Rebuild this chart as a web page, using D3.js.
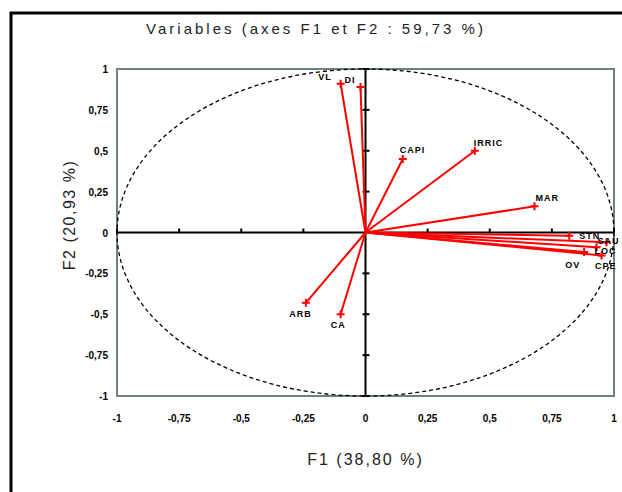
<!DOCTYPE html>
<meta charset="utf-8">
<html lang="fr">
  <head>
    <script src="https://cdn.jsdelivr.net/npm/d3@7"></script>
    <style>
      body { margin: 0; background: #fff; }
      text { font-family: "Liberation Sans", Arial, sans-serif; }
      .tick-lbl { font-size: 10px; font-weight: bold; }
      .var-lbl { font-size: 9px; font-weight: bold; letter-spacing: 1px; }
    </style>
  </head>
  <body>
    <svg id="chart" width="622" height="492"></svg>
  <script>
    // variables projected on the factorial plane F1 x F2
    const variables = ['VL', 'DI', 'CAPI', 'IRRIC', 'MAR', 'ARB', 'CA', 'STN', 'SAU', 'LOC', 'OV', 'CPE'];
    const f1 = [-0.10, -0.02, 0.15, 0.44, 0.68, -0.24, -0.10, 0.82, 0.97, 0.93, 0.88, 0.95];
    const f2 = [0.91, 0.89, 0.45, 0.50, 0.16, -0.43, -0.50, -0.02, -0.06, -0.09, -0.12, -0.14];
    const ticks = [-1, -0.75, -0.5, -0.25, 0, 0.25, 0.5, 0.75, 1];

    const title = 'Variables (axes F1 et F2 : 59,73 %)';
    const xTitle = 'F1 (38,80 %)';
    const yTitle = 'F2 (20,93 %)';

    // label placement around each point: [anchor, dx, dy]
    const lblPos = {
      VL: ['end', -9, -4], DI: ['end', -5, -4], CAPI: ['start', -3, -6],
      IRRIC: ['start', -1, -5], MAR: ['start', 1, -5], ARB: ['end', 6, 14],
      CA: ['end', 5, 14], STN: ['start', 10, 3], SAU: ['end', 13, 2],
      LOC: ['end', 20, 7], OV: ['end', -4, 16], CPE: ['end', 15, 14]
    };

    const fmt = v => String(v).replace('.', ',');

    const svg = d3.select('#chart');
    const x = d3.scaleLinear().domain([-1, 1]).range([117, 614]);
    const y = d3.scaleLinear().domain([-1, 1]).range([396, 69]);

    // outer frame
    svg.append('path').attr('d', 'M11,500 L11,13 L630,13')
      .attr('fill', 'none').attr('stroke', '#000').attr('stroke-width', 3);

    svg.append('text').attr('x', 316).attr('y', 34)
      .attr('text-anchor', 'middle').attr('font-size', 15).attr('letter-spacing', 3)
      .attr('fill', '#222').text(title);

    // plot box
    svg.append('rect').attr('x', x(-1)).attr('y', y(1))
      .attr('width', x(1) - x(-1)).attr('height', y(-1) - y(1))
      .attr('fill', 'none').attr('stroke', '#6c827e').attr('stroke-width', 2);

    // correlation circle
    svg.append('ellipse').attr('cx', x(0)).attr('cy', y(0))
      .attr('rx', x(1) - x(0)).attr('ry', y(0) - y(1))
      .attr('fill', 'none').attr('stroke', '#000').attr('stroke-width', 1.3)
      .attr('stroke-dasharray', '4,3');

    // axes through the origin
    svg.append('line').attr('x1', x(-1)).attr('x2', x(1)).attr('y1', y(0)).attr('y2', y(0))
      .attr('stroke', '#000').attr('stroke-width', 2);
    svg.append('line').attr('x1', x(0)).attr('x2', x(0)).attr('y1', y(-1)).attr('y2', y(1))
      .attr('stroke', '#000').attr('stroke-width', 2);

    svg.append('g').selectAll('line').data(ticks.filter(t => t != 0)).enter()
      .append('line').attr('x1', d => x(d)).attr('x2', d => x(d))
      .attr('y1', y(0)).attr('y2', y(0) - 4).attr('stroke', '#000').attr('stroke-width', 2);
    svg.append('g').selectAll('line').data(ticks.filter(t => t != 0)).enter()
      .append('line').attr('y1', d => y(d)).attr('y2', d => y(d))
      .attr('x1', x(0) - 3).attr('x2', x(0) + 4).attr('stroke', '#000').attr('stroke-width', 2);

    // tick labels
    svg.append('g').selectAll('text').data(ticks).enter()
      .append('text').attr('class', 'tick-lbl').attr('text-anchor', 'end')
      .attr('x', 108).attr('y', d => y(d) + 4).text(fmt);
    svg.append('g').selectAll('text').data(ticks).enter()
      .append('text').attr('class', 'tick-lbl').attr('text-anchor', 'middle')
      .attr('x', d => x(d)).attr('y', 422).text(fmt);

    svg.append('text').attr('x', x(0)).attr('y', 465).attr('text-anchor', 'middle')
      .attr('font-size', 16).attr('letter-spacing', 2).attr('fill', '#222').text(xTitle);
    svg.append('text').attr('transform', 'translate(75,215) rotate(-90)')
      .attr('text-anchor', 'middle').attr('font-size', 16).attr('letter-spacing', 1.5)
      .attr('fill', '#222').text(yTitle);

    // vectors
    const pts = variables.map((v, i) => ({ name: v, x: f1[i], y: f2[i] }));
    svg.append('g').selectAll('line').data(pts).enter()
      .append('line').attr('x1', x(0)).attr('y1', y(0))
      .attr('x2', d => x(d.x)).attr('y2', d => y(d.y))
      .attr('stroke', '#ff0000').attr('stroke-width', 2);
    svg.append('g').selectAll('path').data(pts).enter()
      .append('path').attr('d', d => `M${x(d.x) - 4},${y(d.y)}h8M${x(d.x)},${y(d.y) - 4}v8`)
      .attr('stroke', '#ff0000').attr('stroke-width', 2);

    svg.append('g').selectAll('text').data(pts).enter()
      .append('text').attr('class', 'var-lbl')
      .attr('text-anchor', d => lblPos[d.name][0])
      .attr('x', d => x(d.x) + lblPos[d.name][1])
      .attr('y', d => y(d.y) + lblPos[d.name][2])
      .text(d => d.name);
  </script>
  </body>
</html>
